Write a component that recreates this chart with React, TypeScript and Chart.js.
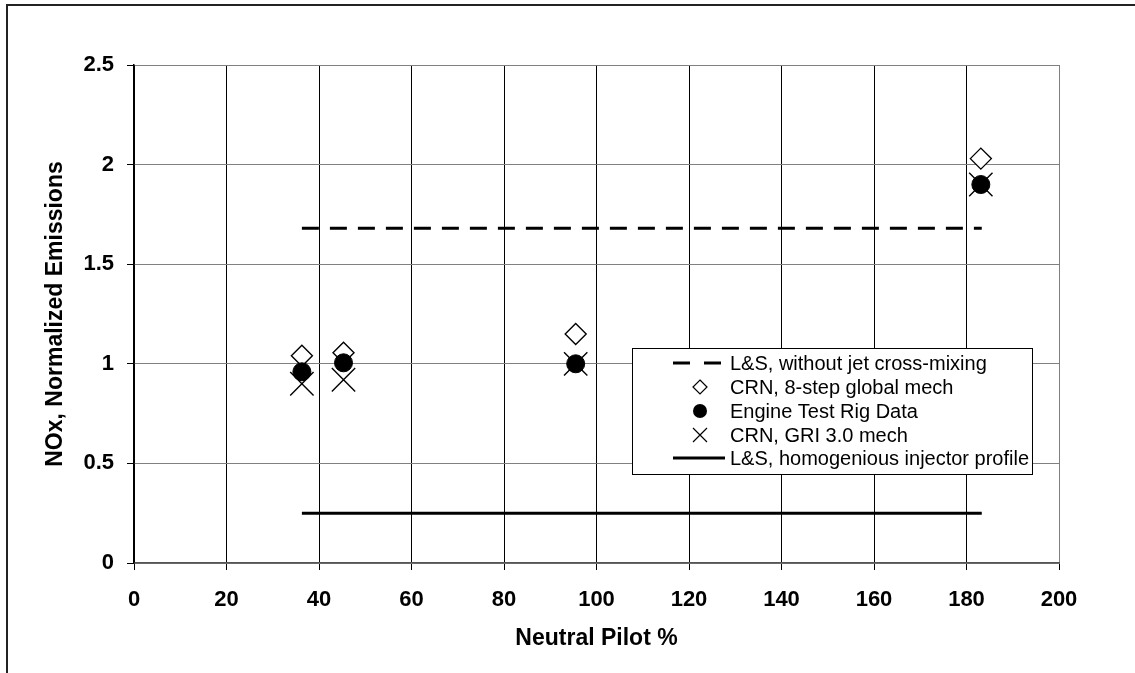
import React, { useEffect, useRef } from "react";
import { Chart, registerables } from "chart.js";

Chart.register(...registerables);

const FONT = "'Liberation Sans', Arial, sans-serif";

// Neutral pilot % (x) for each measured / computed point
const pilotPct = [36.3, 45.3, 95.5, 183.1];
const crn8Step = [1.04, 1.055, 1.15, 2.03];
const engineRig = [0.96, 1.005, 1.0, 1.9];
const crnGri30 = [0.9, 0.92, 1.0, 1.9];

// Horizontal reference lines (L&S models)
const lsRange = [36.3, 183.3];
const lsNoMixing = 1.68;
const lsHomogeneous = 0.25;

const xTicks = [0, 20, 40, 60, 80, 100, 120, 140, 160, 180, 200];
const yTicks = [0, 0.5, 1, 1.5, 2, 2.5];

const legendLabels = [
  "L&S, without jet cross-mixing",
  "CRN, 8-step global mech",
  "Engine Test Rig Data",
  "CRN, GRI 3.0 mech",
  "L&S, homogenious injector profile",
];

const legendPlugin = {
  id: "boxLegend",
  afterDatasetsDraw(chart: any) {
    const ctx = chart.ctx;
    const x0 = 632, y0 = 348, x1 = 1032, y1 = 474;
    ctx.save();
    ctx.fillStyle = "#fff";
    ctx.fillRect(x0, y0, x1 - x0, y1 - y0);
    ctx.strokeStyle = "#000";
    ctx.lineWidth = 1;
    ctx.strokeRect(x0 + 0.5, y0 + 0.5, x1 - x0, y1 - y0);
    const rows = [363, 387, 411, 435, 458];
    const cx = 700;
    ctx.fillStyle = "#000";
    ctx.font = `20px ${FONT}`;
    ctx.textBaseline = "middle";
    ctx.textAlign = "left";
    legendLabels.forEach((t, i) => ctx.fillText(t, 730, rows[i] + 1));
    // dashed line
    ctx.lineWidth = 3;
    ctx.beginPath();
    ctx.moveTo(673, rows[0]); ctx.lineTo(690, rows[0]);
    ctx.moveTo(704, rows[0]); ctx.lineTo(721, rows[0]);
    ctx.stroke();
    // diamond
    ctx.lineWidth = 1.2;
    ctx.beginPath();
    ctx.moveTo(cx, rows[1] - 7); ctx.lineTo(cx + 7, rows[1]);
    ctx.lineTo(cx, rows[1] + 7); ctx.lineTo(cx - 7, rows[1]);
    ctx.closePath();
    ctx.stroke();
    // circle
    ctx.beginPath();
    ctx.arc(cx, rows[2], 7, 0, Math.PI * 2);
    ctx.fill();
    // cross
    ctx.beginPath();
    ctx.moveTo(cx - 7, rows[3] - 7); ctx.lineTo(cx + 7, rows[3] + 7);
    ctx.moveTo(cx + 7, rows[3] - 7); ctx.lineTo(cx - 7, rows[3] + 7);
    ctx.stroke();
    // solid line
    ctx.lineWidth = 3;
    ctx.beginPath();
    ctx.moveTo(673, rows[4]); ctx.lineTo(725, rows[4]);
    ctx.stroke();
    ctx.restore();
  },
};

export default function App() {
  const ref = useRef<HTMLCanvasElement>(null);
  useEffect(() => {
    if (!ref.current) return;
    const pts = (ys: number[]) => pilotPct.map((x, i) => ({ x, y: ys[i] }));
    const chart = new Chart(ref.current, {
      type: "scatter",
      data: {
        datasets: [
          {
            label: legendLabels[0],
            data: lsRange.map((x) => ({ x, y: lsNoMixing })),
            showLine: true,
            borderColor: "#000",
            borderWidth: 3,
            borderDash: [17, 11],
            pointRadius: 0,
            order: 3,
          },
          {
            label: legendLabels[1],
            data: pts(crn8Step),
            pointStyle: "rectRot",
            pointRadius: 10.5,
            backgroundColor: "#fff",
            borderColor: "#000",
            borderWidth: 1.4,
            order: 2,
          },
          {
            label: legendLabels[2],
            data: pts(engineRig),
            pointStyle: "circle",
            pointRadius: 9,
            backgroundColor: "#000",
            borderColor: "#000",
            borderWidth: 1,
            order: 1,
          },
          {
            label: legendLabels[3],
            data: pts(crnGri30),
            pointStyle: "crossRot",
            pointRadius: 16.5,
            borderColor: "#000",
            borderWidth: 1.4,
            order: 2,
          },
          {
            label: legendLabels[4],
            data: lsRange.map((x) => ({ x, y: lsHomogeneous })),
            showLine: true,
            borderColor: "#000",
            borderWidth: 3,
            pointRadius: 0,
            order: 3,
          },
        ],
      },
      options: {
        animation: false,
        responsive: false,
        layout: { padding: { top: 65, right: 76, left: 0, bottom: 0 } },
        plugins: { legend: { display: false }, tooltip: { enabled: false } },
        scales: {
          x: {
            type: "linear",
            min: 0,
            max: 200,
            afterBuildTicks: (s: any) => { s.ticks = xTicks.map((v) => ({ value: v })); },
            afterFit: (s: any) => { s.height = 110; },
            grid: {
              color: (c: any) => (c.tick && c.tick.value === 200 ? "#808080" : "#000"),
              tickColor: "#000",
              tickLength: 7,
              lineWidth: 1,
            },
            border: { color: "#555", width: 1.5 },
            ticks: {
              color: "#000",
              padding: 17,
              font: { family: FONT, size: 22, weight: "bold" },
            },
            title: {
              display: true,
              text: "Neutral Pilot %",
              color: "#000",
              font: { family: FONT, size: 23, weight: "bold" },
              padding: { top: 0, bottom: 21 },
            },
          },
          y: {
            type: "linear",
            min: 0,
            max: 2.5,
            afterBuildTicks: (s: any) => { s.ticks = yTicks.map((v) => ({ value: v })); },
            afterFit: (s: any) => { s.width = 134; },
            grid: {
              color: "#808080",
              tickColor: "#000",
              tickLength: 7,
              lineWidth: 1,
            },
            border: { color: "#000", width: 1.5 },
            ticks: {
              color: "#000",
              padding: 13,
              font: { family: FONT, size: 22, weight: "bold" },
              callback: (v: any) => String(v),
            },
            title: {
              display: true,
              text: "NOx, Normalized Emissions",
              color: "#000",
              font: { family: FONT, size: 23, weight: "bold" },
              padding: { top: 42, bottom: 0 },
            },
          },
        },
      },
      plugins: [legendPlugin],
    } as any);
    return () => chart.destroy();
  }, []);
  return (
    <div style={{ position: "absolute", left: 0, top: 0, width: 1135, height: 673, overflow: "hidden", background: "#fff" }}>
      <canvas ref={ref} width={1135} height={673} style={{ position: "absolute", left: 0, top: 0 }} />
      <div
        style={{
          position: "absolute",
          left: 6,
          top: 4,
          width: 1300,
          height: 900,
          borderLeft: "2px solid #222",
          borderTop: "2px solid #222",
          pointerEvents: "none",
        }}
      />
    </div>
  );
}
